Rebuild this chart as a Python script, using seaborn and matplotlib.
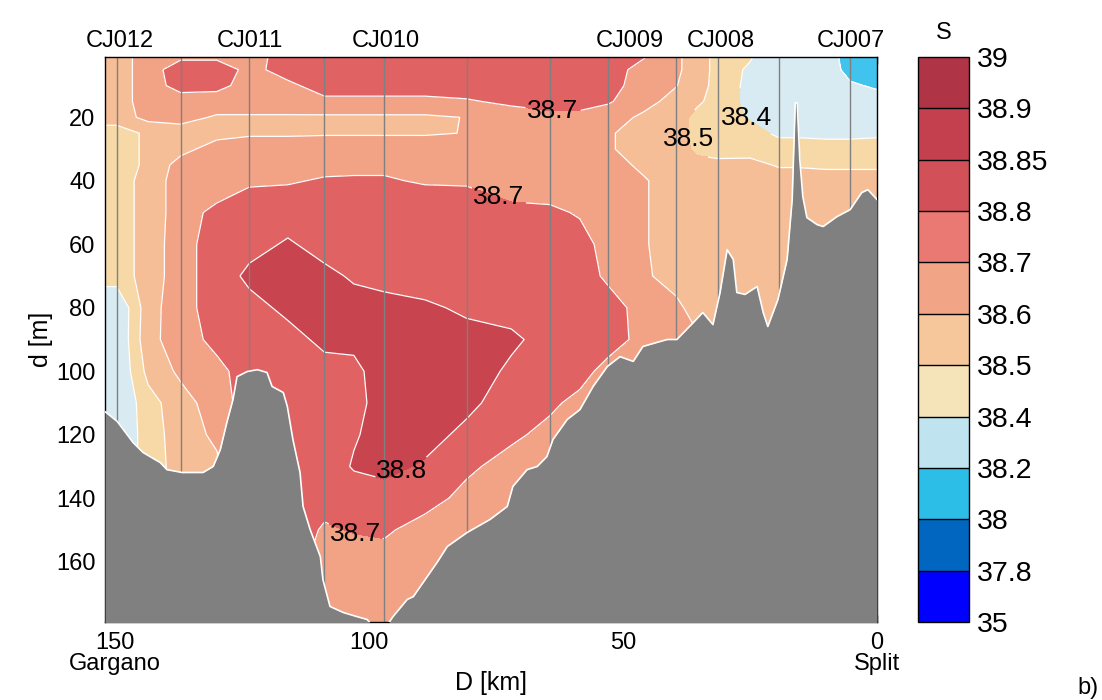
import numpy as np
import matplotlib
matplotlib.use("Agg")
import matplotlib.pyplot as plt
from matplotlib.colors import ListedColormap, BoundaryNorm
from matplotlib.cm import ScalarMappable
import seaborn as sns

# salinity class limits (colorbar) and colours
levels = [35, 37.8, 38, 38.2, 38.4, 38.5, 38.6, 38.7, 38.8, 38.85, 38.9, 39]
fill_colors = ["#0000FF", "#0066BF", "#40C4EE", "#D8EBF2", "#F7D9A8", "#F6BE96",
               "#F2A285", "#E06262", "#C8454F", "#C03C4C", "#AF3446"]
bar_colors = ["#0000FF", "#0066BF", "#2DBEE8", "#BFE4EF", "#F5E3BA", "#F5C79B",
              "#F2A487", "#EA7973", "#D25158", "#C4404F", "#AF3446"]
labelled_levels = [38.4, 38.5, 38.7, 38.8]
plain_levels = [37.8, 38, 38.2, 38.6, 38.85, 38.9]

# section grid: distance from Split [km] (left -> right in the picture) and depth [m]
section_km = [152.5, 149.7, 143.5, 137.1, 130, 123.6, 116, 108.8, 103, 97, 89, 80.8, 72,
              64.4, 58.5, 52.9, 46, 39.6, 35.5, 31.4, 25, 19.3, 15.5, 10, 5.3, 0]
depth_m = [0, 5, 10, 15, 20, 25, 30, 35, 40, 45, 50, 60, 70, 80, 90, 100, 110, 120,
           130, 140, 150, 160, 170, 180]

salinity = [
    [38.55, 38.55, 38.65, 38.66, 38.66, 38.66, 38.74, 38.76, 38.76, 38.76, 38.76, 38.76, 38.76, 38.76, 38.76, 38.76, 38.72, 38.62, 38.55, 38.47, 38.42, 38.30, 38.30, 38.28, 38.12, 38.10],
    [38.55, 38.55, 38.65, 38.76, 38.76, 38.67, 38.74, 38.76, 38.76, 38.76, 38.76, 38.76, 38.76, 38.76, 38.76, 38.75, 38.66, 38.62, 38.55, 38.47, 38.38, 38.30, 38.30, 38.28, 38.15, 38.12],
    [38.55, 38.55, 38.65, 38.74, 38.73, 38.66, 38.68, 38.74, 38.74, 38.74, 38.74, 38.75, 38.75, 38.75, 38.75, 38.74, 38.65, 38.605, 38.54, 38.47, 38.37, 38.30, 38.30, 38.29, 38.22, 38.18],
    [38.55, 38.55, 38.65, 38.65, 38.65, 38.65, 38.65, 38.68, 38.68, 38.68, 38.68, 38.69, 38.72, 38.74, 38.74, 38.71, 38.64, 38.56, 38.52, 38.46, 38.37, 38.30, 38.30, 38.30, 38.28, 38.26],
    [38.55, 38.55, 38.63, 38.63, 38.59, 38.59, 38.59, 38.585, 38.585, 38.585, 38.585, 38.603, 38.65, 38.67, 38.67, 38.65, 38.58, 38.55, 38.47, 38.45, 38.39, 38.32, 38.32, 38.32, 38.31, 38.31],
    [38.45, 38.45, 38.52, 38.56, 38.57, 38.59, 38.59, 38.59, 38.59, 38.59, 38.59, 38.603, 38.64, 38.65, 38.65, 38.61, 38.56, 38.55, 38.46, 38.45, 38.44, 38.38, 38.38, 38.37, 38.37, 38.38],
    [38.45, 38.45, 38.52, 38.57, 38.64, 38.64, 38.64, 38.66, 38.66, 38.66, 38.66, 38.64, 38.65, 38.65, 38.65, 38.61, 38.56, 38.55, 38.48, 38.47, 38.46, 38.45, 38.45, 38.45, 38.45, 38.45],
    [38.45, 38.45, 38.52, 38.64, 38.65, 38.66, 38.66, 38.67, 38.68, 38.68, 38.68, 38.66, 38.66, 38.65, 38.65, 38.64, 38.58, 38.55, 38.53, 38.52, 38.53, 38.49, 38.49, 38.48, 38.48, 38.48],
    [38.45, 38.45, 38.54, 38.65, 38.66, 38.68, 38.69, 38.71, 38.71, 38.71, 38.69, 38.69, 38.67, 38.65, 38.65, 38.65, 38.61, 38.55, 38.55, 38.55, 38.55, 38.55, 38.55, 38.55, 38.55, 38.55],
    [38.45, 38.45, 38.54, 38.65, 38.68, 38.73, 38.73, 38.74, 38.75, 38.75, 38.73, 38.72, 38.69, 38.68, 38.65, 38.65, 38.61, 38.55, 38.55, 38.55, 38.55, 38.55, 38.55, 38.55, 38.55, 38.55],
    [38.45, 38.45, 38.54, 38.65, 38.73, 38.75, 38.76, 38.75, 38.76, 38.76, 38.75, 38.74, 38.72, 38.72, 38.69, 38.65, 38.61, 38.55, 38.55, 38.55, 38.55, 38.55, 38.55, 38.55, 38.55, 38.55],
    [38.45, 38.45, 38.54, 38.66, 38.75, 38.77, 38.81, 38.77, 38.77, 38.77, 38.76, 38.76, 38.75, 38.75, 38.74, 38.66, 38.61, 38.55, 38.55, 38.55, 38.55, 38.55, 38.55, 38.55, 38.55, 38.55],
    [38.45, 38.45, 38.54, 38.66, 38.75, 38.82, 38.83, 38.82, 38.79, 38.78, 38.77, 38.77, 38.76, 38.76, 38.75, 38.68, 38.62, 38.55, 38.55, 38.55, 38.55, 38.55, 38.55, 38.55, 38.55, 38.55],
    [38.30, 38.30, 38.56, 38.66, 38.75, 38.77, 38.82, 38.84, 38.83, 38.82, 38.81, 38.79, 38.78, 38.78, 38.76, 38.745, 38.66, 38.63, 38.55, 38.55, 38.55, 38.55, 38.55, 38.55, 38.55, 38.55],
    [38.30, 38.30, 38.57, 38.65, 38.73, 38.75, 38.77, 38.82, 38.82, 38.84, 38.83, 38.82, 38.81, 38.78, 38.76, 38.75, 38.665, 38.65, 38.62, 38.55, 38.55, 38.55, 38.55, 38.55, 38.55, 38.55],
    [38.30, 38.30, 38.53, 38.62, 38.67, 38.75, 38.76, 38.77, 38.78, 38.84, 38.84, 38.83, 38.79, 38.76, 38.74, 38.66, 38.65, 38.65, 38.62, 38.55, 38.55, 38.55, 38.55, 38.55, 38.55, 38.55],
    [38.30, 38.30, 38.46, 38.56, 38.65, 38.75, 38.75, 38.76, 38.77, 38.84, 38.84, 38.82, 38.76, 38.72, 38.67, 38.65, 38.65, 38.65, 38.62, 38.55, 38.55, 38.55, 38.55, 38.55, 38.55, 38.55],
    [38.30, 38.30, 38.45, 38.55, 38.62, 38.75, 38.75, 38.75, 38.79, 38.84, 38.83, 38.78, 38.72, 38.67, 38.65, 38.65, 38.65, 38.65, 38.62, 38.55, 38.55, 38.55, 38.55, 38.55, 38.55, 38.55],
    [38.30, 38.30, 38.45, 38.54, 38.58, 38.75, 38.75, 38.74, 38.81, 38.82, 38.79, 38.72, 38.66, 38.65, 38.65, 38.65, 38.65, 38.65, 38.62, 38.55, 38.55, 38.55, 38.55, 38.55, 38.55, 38.55],
    [38.30, 38.30, 38.45, 38.54, 38.58, 38.75, 38.75, 38.73, 38.74, 38.77, 38.74, 38.67, 38.65, 38.65, 38.65, 38.65, 38.65, 38.65, 38.62, 38.55, 38.55, 38.55, 38.55, 38.55, 38.55, 38.55],
    [38.30, 38.30, 38.45, 38.54, 38.58, 38.75, 38.75, 38.69, 38.705, 38.715, 38.66, 38.65, 38.65, 38.65, 38.65, 38.65, 38.65, 38.65, 38.62, 38.55, 38.55, 38.55, 38.55, 38.55, 38.55, 38.55],
    [38.30, 38.30, 38.45, 38.54, 38.58, 38.75, 38.75, 38.66, 38.66, 38.66, 38.65, 38.65, 38.65, 38.65, 38.65, 38.65, 38.65, 38.65, 38.62, 38.55, 38.55, 38.55, 38.55, 38.55, 38.55, 38.55],
    [38.30, 38.30, 38.45, 38.54, 38.58, 38.75, 38.75, 38.65, 38.65, 38.65, 38.65, 38.65, 38.65, 38.65, 38.65, 38.65, 38.65, 38.65, 38.62, 38.55, 38.55, 38.55, 38.55, 38.55, 38.55, 38.55],
    [38.30, 38.30, 38.45, 38.54, 38.58, 38.75, 38.75, 38.65, 38.65, 38.65, 38.65, 38.65, 38.65, 38.65, 38.65, 38.65, 38.65, 38.65, 38.62, 38.55, 38.55, 38.55, 38.55, 38.55, 38.55, 38.55],
]

# sea bottom along the section
bathy_km = [152.0, 149.6, 146.5, 144.5, 141.1, 139.8, 136.8, 132.7, 130.7, 129.3, 128.0, 126.8,
            126.0, 124.0, 122.0, 120.1, 119.1, 116.9, 116.1, 115.0, 113.6, 113.0, 111.6, 109.6,
            109.1, 107.7, 105.1, 102.4, 100.4, 98.8, 96.9, 95.3, 92.5, 91.3, 86.6, 84.6, 80.7,
            76.2, 72.8, 71.7, 68.9, 66.9, 65.0, 63.8, 61.0, 58.5, 55.9, 53.1, 50.6, 48.0, 46.1,
            43.3, 41.3, 39.4, 36.2, 34.3, 32.3, 30.9, 29.5, 28.3, 27.6, 26.0, 23.6, 22.4, 21.5,
            19.5, 17.7, 16.7, 16.1, 15.7, 15.2, 14.6, 13.8, 11.8, 10.6, 7.9, 5.3, 3.0, 1.8, 0.0]
bathy_depth = [112.7, 115.8, 122.4, 125.6, 128.8, 131.0, 131.9, 131.9, 130.0, 124.7, 116.1, 108.9,
               101.7, 100.1, 99.5, 100.4, 104.8, 106.7, 111.1, 121.5, 131.9, 142.6, 149.9, 158.4,
               165.6, 174.1, 176.0, 177.3, 178.2, 181.0, 181.0, 177.3, 171.9, 171.0, 160.2, 155.2, 150.8,
               146.7, 142.6, 136.3, 131.0, 130.0, 126.9, 121.5, 115.2, 112.1, 104.8, 98.5, 95.4, 96.9, 92.2,
               90.9, 90.0, 90.0, 84.7, 81.5, 85.3, 75.2, 61.7, 64.8, 75.2, 75.8, 73.3, 81.5, 85.9,
               77.4, 64.8, 45.9, 15.4, 15.4, 33.3, 45.0, 51.6, 53.8, 54.4, 51.3, 49.1, 43.7, 42.8, 45.9]

# CTD casts (vertical lines) and the named stations
cast_km = [149.7, 137.1, 123.6, 108.8, 97.0, 80.8, 64.4, 52.9, 39.6, 31.4, 19.3, 5.3]
station_names = ["CJ012", "CJ011", "CJ010", "CJ009", "CJ008", "CJ007"]
station_km = [149.1, 123.4, 96.7, 48.6, 30.8, 5.2]

# where the inline contour labels sit (km, m)
label_pos = [(63.8, 18.5), (74.2, 43.5), (93.3, 133.0), (102.8, 152.0), (36.0, 26.5), (25.6, 20.0)]

sns.set_style("ticks")
plt.rcParams["font.family"] = ["Liberation Sans", "DejaVu Sans"]
plt.rcParams.update({"text.color": "black", "axes.labelcolor": "black",
                     "xtick.color": "black", "ytick.color": "black"})

fig = plt.figure(figsize=(11.02, 7.0), dpi=100)
ax = fig.add_axes([105 / 1102, 78 / 700, 772 / 1102, 565 / 700])

S = np.array(salinity)
ax.contourf(section_km, depth_m, S, levels=levels, colors=fill_colors, zorder=1)
ax.contour(section_km, depth_m, S, levels=plain_levels, colors="white",
           linewidths=0.9, zorder=1.5)
cs = ax.contour(section_km, depth_m, S, levels=labelled_levels, colors="white",
                linewidths=0.9, zorder=1.5)

for km in cast_km:
    ax.axvline(km, color="#808080", lw=1.0, zorder=2)

ax.fill_between(bathy_km, bathy_depth, 200, color="#808080", lw=0, zorder=3)
sns.lineplot(x=bathy_km, y=bathy_depth, color="white", lw=1.2, sort=False,
             estimator=None, ax=ax, zorder=3.5)

labels = ax.clabel(cs, manual=label_pos, inline=True, inline_spacing=2,
                   fmt="%g", fontsize=19, colors="k")
for t in labels:
    t.set_rotation(0)
    t.set_zorder(5)

ax.set_xlim(152.0, 0)
ax.set_ylim(179, 1.0)
ax.set_xticks([150, 100, 50, 0])
ax.set_xticklabels(["150\nGargano", "100", "50", "0\nSplit"], linespacing=0.95)
ax.set_yticks(range(20, 161, 20))
ax.tick_params(direction="in", top=True, right=True, length=5, width=1,
               labelsize=17, pad=7, colors="k")
for sp in ax.spines.values():
    sp.set_color("k")
    sp.set_linewidth(1)
ax.set_xlabel("D [km]", fontsize=18)
ax.xaxis.set_label_coords(0.5, -0.086)
ax.set_ylabel("d [m]", fontsize=18)
ax.yaxis.set_label_coords(-0.068, 0.5)

for name, km in zip(station_names, station_km):
    ax.text(km, 1.008, name, transform=ax.get_xaxis_transform(), ha="center",
            va="bottom", fontsize=17)

cax = fig.add_axes([918 / 1102, 78 / 700, 51 / 1102, 565 / 700])
norm = BoundaryNorm(levels, len(bar_colors))
cb = fig.colorbar(ScalarMappable(norm=norm, cmap=ListedColormap(bar_colors)), cax=cax,
                  spacing="uniform", ticks=levels, drawedges=True)
cb.ax.set_yticklabels([f"{v:g}" for v in levels])
cb.ax.tick_params(length=0, labelsize=20.5, pad=6)
cb.outline.set_linewidth(1)
cb.outline.set_edgecolor("k")
cb.dividers.set_color("k")
cb.dividers.set_linewidth(1)
cax.set_title("S", fontsize=17, pad=13)

fig.text(0.997, 0.002, "b)", ha="right", va="bottom", fontsize=17)

fig.savefig("out.png", dpi=100)
